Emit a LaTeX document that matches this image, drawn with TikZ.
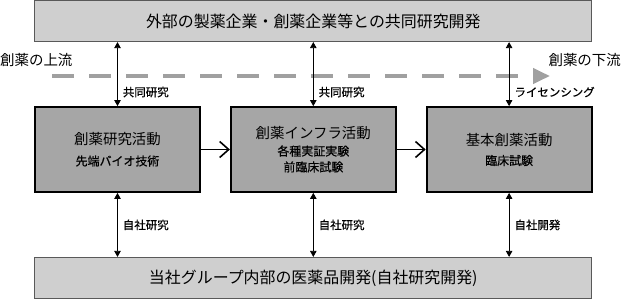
\documentclass[tikz,border=0pt]{standalone}
\usepackage{fontspec}
\setmainfont{Noto Sans CJK JP}
\newfontfamily\heavycjk{Noto Sans CJK JP}[FakeBold=0.6]
\usetikzlibrary{arrows.meta, positioning}

\definecolor{widefill}{HTML}{CFCFCF}
\definecolor{actfill}{HTML}{A6A6A6}
\definecolor{streamgray}{HTML}{A0A0A0}

\begin{document}
\begin{tikzpicture}[
    x=1bp, y=1bp,
    widebox/.style={rectangle, minimum width=557bp, minimum height=41bp, draw=black!65, line width=1bp, fill=widefill, font=\fontsize{16}{19}\selectfont},
    actbox/.style={rectangle, minimum width=165bp, minimum height=85bp, draw=black, line width=1.8bp, fill=actfill, align=center, font=\heavycjk\fontsize{12}{16}\selectfont},
    tag/.style={font=\heavycjk\fontsize{11.5}{13}\selectfont, inner sep=0pt},
    side/.style={font=\fontsize{14.5}{17}\selectfont, inner sep=0pt},
    duplex/.style={line width=0.8bp, {Triangle[length=6bp,width=6.5bp]}-{Triangle[length=6bp,width=6.5bp]}},
    flow/.style={line width=1.6bp, -{Straight Barb[length=9bp,width=16bp]}},
    stream/.style={streamgray, line width=4bp, dash pattern=on 22bp off 15bp, -{Triangle[length=17bp,width=15bp]}}
]
\useasboundingbox (0,0) rectangle (621,-300);

% Activity boxes
\node (research) [actbox] at (117.5,-149.5) {{\rmfamily\fontsize{14.5}{17}\selectfont 創薬研究活動}\\[5bp]先端バイオ技術};
\node (infra) [actbox, right=29bp of research] {{\rmfamily\fontsize{14.5}{17}\selectfont 創薬インフラ活動}\\[1bp]各種実証実験\\前臨床試験};
\node (clinical) [actbox, right=29bp of infra] {{\rmfamily\fontsize{14.5}{17}\selectfont 基本創薬活動}\\[4bp]臨床試験};

% External and internal development
\node (external) [widebox, above=64bp of infra] {外部の製薬企業・創薬企業等との共同研究開発};
\node (internal) [widebox, below=64bp of infra] {当社グループ内部の医薬品開発(自社研究開発)};

% Upstream / downstream
\node (uplabel) [side, anchor=west] at (0,-60) {創薬の上流};
\node (downlabel) [side, anchor=east] at (621,-60) {創薬の下流};
\coordinate (upstream) at (52,-76);
\coordinate (downstream) at (550,-76);
\draw [stream] (upstream) -- (downstream);

% Arrows
\draw [duplex] (research.north) -- (research.north |- external.south) node [tag, pos=0.22, right=5bp] {共同研究};
\draw [duplex] (infra.north) -- (infra.north |- external.south) node [tag, pos=0.22, right=5bp] {共同研究};
\draw [duplex] (clinical.north) -- (clinical.north |- external.south) node [tag, pos=0.22, right=5bp] {ライセンシング};
\draw [duplex] (research.south) -- (research.south |- internal.north) node [tag, midway, right=5bp] {自社研究};
\draw [duplex] (infra.south) -- (infra.south |- internal.north) node [tag, midway, right=5bp] {自社研究};
\draw [duplex] (clinical.south) -- (clinical.south |- internal.north) node [tag, midway, right=5bp] {自社開発};
\draw [flow] (research) -- (infra);
\draw [flow] (infra) -- (clinical);

\end{tikzpicture}
\end{document}
